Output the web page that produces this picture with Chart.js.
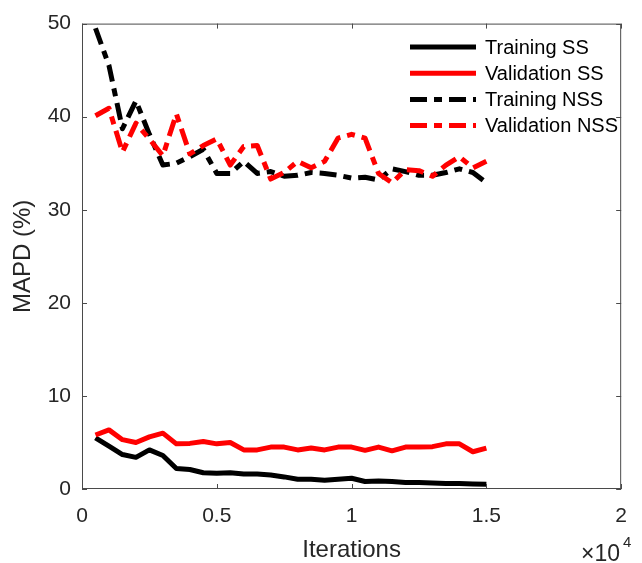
<!DOCTYPE html>
<html>
<head>
<meta charset="utf-8">
<script src="https://cdn.jsdelivr.net/npm/chart.js@4/dist/chart.umd.min.js"></script>
<style>
  html, body { margin: 0; padding: 0; background: #fff; }
  #wrap { width: 642px; height: 563px; }
</style>
</head>
<body>
<div id="wrap"><canvas id="chart" width="642" height="563"></canvas></div>
<script>
// iterations at which the errors were logged
const iterations = [500, 1000, 1500, 2000, 2500, 3000, 3500, 4000, 4500, 5000,
    5500, 6000, 6500, 7000, 7500, 8000, 8500, 9000, 9500, 10000,
    10500, 11000, 11500, 12000, 12500, 13000, 13500, 14000, 14500, 15000];

// MAPD (%) per series
const trainingSS = [5.5, 4.6, 3.7, 3.4, 4.2, 3.6, 2.2, 2.1, 1.75, 1.7,
    1.75, 1.6, 1.6, 1.5, 1.3, 1.05, 1.05, 0.95, 1.05, 1.15,
    0.8, 0.85, 0.8, 0.7, 0.7, 0.65, 0.6, 0.6, 0.55, 0.5];
const validationSS = [5.8, 6.35, 5.3, 5.0, 5.6, 6.0, 4.85, 4.9, 5.1, 4.85,
    5.0, 4.2, 4.2, 4.5, 4.5, 4.2, 4.4, 4.2, 4.5, 4.5,
    4.15, 4.5, 4.1, 4.5, 4.5, 4.55, 4.85, 4.85, 4.0, 4.4];
const trainingNSS = [49.5, 45.5, 38.7, 41.7, 38.1, 34.8, 35.0, 35.7, 36.5, 33.9,
    33.9, 35.2, 33.9, 34.1, 33.6, 33.7, 34.0, 33.9, 33.7, 33.4,
    33.5, 33.2, 34.4, 34.1, 33.7, 33.7, 34.0, 34.4, 34.0, 32.9];
const validationNSS = [40.1, 40.9, 36.2, 39.3, 37.6, 35.8, 40.3, 36.0, 36.9, 37.6,
    34.8, 36.8, 36.9, 33.3, 34.0, 35.2, 34.5, 35.2, 37.7, 38.1,
    37.7, 33.9, 32.9, 34.3, 34.2, 33.6, 34.8, 35.7, 34.5, 35.2];

const seriesNames = ['Training SS', 'Validation SS', 'Training NSS', 'Validation NSS'];
const xTicks = [0, 5000, 10000, 15000, 20000];
const yTicks = [0, 10, 20, 30, 40, 50];

const FONT = "'Liberation Sans', Arial, Helvetica, sans-serif";
const AXIS_COLOR = '#262626';
const DASH_DOT = [17, 7, 8, 7];

const toPoints = vals => vals.map((v, i) => ({ x: iterations[i], y: v }));

// MATLAB-like box with inward ticks, the legend and the x10^4 exponent
const matlabBox = {
    id: 'matlabBox',
    afterDraw(chart) {
        const { ctx, chartArea: a, scales } = chart;
        const tl = 5;
        ctx.save();
        ctx.strokeStyle = '#4a4a4a';
        ctx.lineWidth = 1;
        ctx.strokeRect(a.left + 0.5, a.top + 0.5, a.right - a.left - 1, a.bottom - a.top - 1);
        ctx.beginPath();
        xTicks.forEach(t => {
            const px = Math.round(scales.x.getPixelForValue(t)) + 0.5;
            ctx.moveTo(px, a.bottom); ctx.lineTo(px, a.bottom - tl);
            ctx.moveTo(px, a.top); ctx.lineTo(px, a.top + tl);
        });
        yTicks.forEach(t => {
            const py = Math.round(scales.y.getPixelForValue(t)) + 0.5;
            ctx.moveTo(a.left, py); ctx.lineTo(a.left + tl, py);
            ctx.moveTo(a.right, py); ctx.lineTo(a.right - tl, py);
        });
        ctx.stroke();

        // legend (no box)
        ctx.font = '20px ' + FONT;
        ctx.textBaseline = 'middle';
        ctx.textAlign = 'left';
        seriesNames.forEach((name, i) => {
            const ds = chart.data.datasets.find(d => d.label === name);
            const y = 47 + i * 26.2;
            ctx.beginPath();
            ctx.strokeStyle = ds.borderColor;
            ctx.lineWidth = ds.borderWidth;
            ctx.setLineDash(ds.borderDash || []);
            ctx.moveTo(410, y); ctx.lineTo(476, y);
            ctx.stroke();
            ctx.setLineDash([]);
            ctx.fillStyle = '#000';
            ctx.fillText(name, 485, y + 1);
        });

        // exponent label
        ctx.fillStyle = AXIS_COLOR;
        ctx.textBaseline = 'alphabetic';
        ctx.font = '23px ' + FONT;
        ctx.fillText('\u00d710', 581, 561);
        ctx.font = '15px ' + FONT;
        ctx.fillText('4', 623, 547);
        ctx.restore();
    }
};

const lineSet = (label, vals, color, dash, order) => ({
    label,
    data: toPoints(vals),
    borderColor: color,
    backgroundColor: color,
    borderWidth: 5,
    borderDash: dash,
    borderJoinStyle: 'round',
    pointRadius: 0,
    tension: 0,
    order
});

new Chart(document.getElementById('chart'), {
    type: 'line',
    data: {
        datasets: [
            lineSet('Training SS', trainingSS, '#000000', [], 3),
            lineSet('Validation SS', validationSS, '#ff0000', [], 2),
            lineSet('Training NSS', trainingNSS, '#000000', DASH_DOT, 1),
            lineSet('Validation NSS', validationNSS, '#ff0000', DASH_DOT, 0)
        ]
    },
    options: {
        responsive: false,
        animation: false,
        devicePixelRatio: 1,
        layout: { padding: { top: 19, right: 8, left: 0, bottom: 0 } },
        plugins: {
            legend: { display: false },
            tooltip: { enabled: false }
        },
        scales: {
            x: {
                type: 'linear',
                min: 0,
                max: 20000,
                afterFit: scale => { scale.height = 74; },
                afterBuildTicks: scale => { scale.ticks = xTicks.map(v => ({ value: v })); },
                ticks: {
                    color: AXIS_COLOR,
                    font: { family: FONT, size: 21 },
                    padding: 15,
                    maxRotation: 0,
                    callback: v => String(v / 10000)
                },
                grid: { display: false, drawTicks: false },
                border: { display: false },
                title: {
                    display: true,
                    text: 'Iterations',
                    color: AXIS_COLOR,
                    font: { family: FONT, size: 24 },
                    padding: { top: 0, bottom: -2 }
                }
            },
            y: {
                min: 0,
                max: 50,
                afterFit: scale => { scale.width = 82; },
                afterBuildTicks: scale => { scale.ticks = yTicks.map(v => ({ value: v })); },
                ticks: {
                    color: AXIS_COLOR,
                    font: { family: FONT, size: 21 },
                    padding: 11
                },
                grid: { display: false, drawTicks: false },
                border: { display: false },
                title: {
                    display: true,
                    text: 'MAPD (%)',
                    color: AXIS_COLOR,
                    font: { family: FONT, size: 24 },
                    padding: { top: 9, bottom: 0 }
                }
            }
        }
    },
    plugins: [matlabBox]
});
</script>
</body>
</html>
